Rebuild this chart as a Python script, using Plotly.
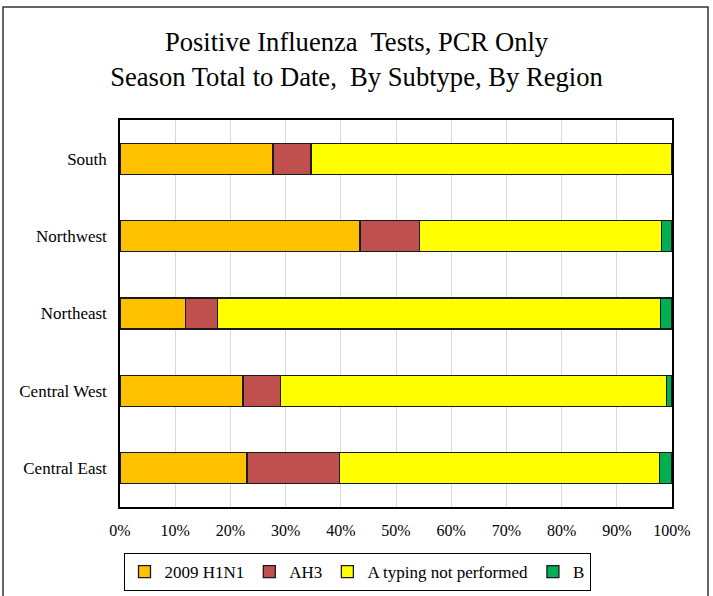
import plotly.graph_objects as go

regions = ["Central East", "Central West", "Northeast", "Northwest", "South"]
h1n1 = [23.0, 22.3, 11.9, 43.5, 27.7]
ah3 = [16.8, 6.8, 5.8, 10.8, 6.9]
a_not_typed = [57.9, 69.9, 80.2, 43.8, 65.4]
b = [2.3, 1.0, 2.1, 1.9, 0.0]
series_names = ["2009 H1N1", "AH3", "A typing not performed", "B"]
series_colors = ["#FFC000", "#C0504D", "#FFFF00", "#00B050"]
x_ticks = [0, 10, 20, 30, 40, 50, 60, 70, 80, 90, 100]
x_tick_labels = [f"{t}%" for t in x_ticks]

FONT = "Liberation Serif, Times New Roman, serif"

fig = go.Figure()
for name, vals, col in zip(series_names, [h1n1, ah3, a_not_typed, b], series_colors):
    fig.add_trace(go.Bar(
        y=regions, x=vals, name=name, orientation="h",
        marker=dict(color=col, line=dict(color="#1a1a1a", width=1.3)),
    ))

W, H = 713, 596
L, R, T, B = 120, 41, 120, 89
pw, ph = W - L - R, H - T - B

def px_to_paper_x(px):
    return (px - L) / pw

def px_to_paper_y(py):
    return (H - B - py) / ph

fig.update_layout(
    barmode="stack",
    bargap=0.60,
    width=W, height=H,
    margin=dict(l=L, r=R, t=T, b=B, autoexpand=False),
    paper_bgcolor="white", plot_bgcolor="white",
    font=dict(family=FONT, size=16, color="black"),
    title=dict(
        text="Positive Influenza  Tests, PCR Only<br>Season Total to Date,  By Subtype, By Region",
        x=0.5, xanchor="center", xref="container",
        y=1 - 51 / H, yanchor="middle", yref="container",
        font=dict(family=FONT, size=26.6, color="black"),
    ),
    xaxis=dict(
        range=[0, 100], tickvals=x_ticks, ticktext=x_tick_labels,
        showgrid=True, gridcolor="#d9d9d9", gridwidth=1.3,
        showline=True, linecolor="black", linewidth=1.5, mirror=True,
        ticks="", zeroline=False, ticklabelstandoff=8,
        tickfont=dict(family=FONT, size=16, color="black"),
        fixedrange=True,
    ),
    yaxis=dict(
        showgrid=False, showline=True, linecolor="black", linewidth=1.5, mirror=True,
        ticks="", ticklabelstandoff=8,
        tickfont=dict(family=FONT, size=17, color="black"),
        fixedrange=True,
    ),
    legend=dict(
        orientation="h", x=px_to_paper_x(357), xanchor="center",
        y=px_to_paper_y(553), yanchor="top",
        bordercolor="black", borderwidth=1, bgcolor="white",
        font=dict(family=FONT, size=17, color="black"),
        traceorder="normal", itemwidth=30,
    ),
    shapes=[dict(
        type="rect", xref="paper", yref="paper",
        x0=px_to_paper_x(3), x1=px_to_paper_x(708),
        y0=px_to_paper_y(602), y1=px_to_paper_y(7),
        line=dict(color="#333333", width=1.5), fillcolor="rgba(0,0,0,0)",
        layer="below",
    )],
)

fig.write_html("out.html", post_script="document.body.style.margin='0';",
               config={"displayModeBar": False})
